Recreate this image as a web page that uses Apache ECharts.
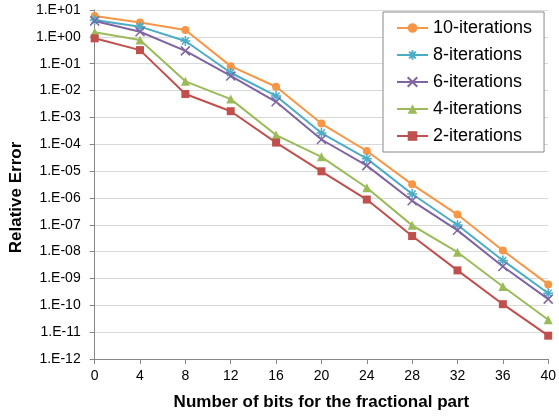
<!DOCTYPE html>
<html>
<head>
<meta charset="utf-8">
<script src="https://cdn.jsdelivr.net/npm/echarts@6/dist/echarts.min.js"></script>
<style>
html, body { margin: 0; padding: 0; background: #fff; }
#chart { width: 559px; height: 418px; }
</style>
</head>
<body>
<div id="chart"></div>
<script>
var bits = ['0', '4', '8', '12', '16', '20', '24', '28', '32', '36', '40'];
var it10 = [6.0, 3.4, 1.8, 0.081, 0.0138, 5.9e-4, 5.6e-5, 3.2e-6, 2.4e-7, 1.1e-8, 6e-10];
var it8 = [4.2, 2.4, 0.70, 0.046, 6.3e-3, 2.6e-4, 2.9e-5, 1.4e-6, 9.8e-8, 4.7e-9, 2.8e-10];
var it6 = [3.9, 1.55, 0.30, 0.035, 3.8e-3, 1.5e-4, 1.6e-5, 7.8e-7, 6.2e-8, 2.8e-9, 1.7e-10];
var it4 = [1.47, 0.76, 0.022, 0.0048, 2.2e-4, 3.4e-5, 2.4e-6, 9.5e-8, 9.5e-9, 5e-10, 2.9e-11];
var it2 = [0.88, 0.32, 0.0074, 0.0017, 1.15e-4, 9.8e-6, 8.7e-7, 3.8e-8, 2e-9, 1.1e-10, 7.4e-12];

var FONT = 'Liberation Sans';
var starPath = 'path://M5,0L5,10M0,5L10,5M1.5,1.5L8.5,8.5M8.5,1.5L1.5,8.5';
var crossPath = 'path://M0,0L10,10M10,0L0,10';

// format like Excel: 1.E-05
function sciLabel(v) {
	var e = Math.round(Math.log10(v));
	var s = e >= 0 ? '+' : '-';
	var a = Math.abs(e);
	return '1.E' + s + (a < 10 ? '0' + a : a);
}

function mkSeries(name, data, color, symbol, size, stroke) {
	var s = {
		name: name,
		type: 'line',
		data: data,
		symbol: symbol,
		symbolSize: size,
		lineStyle: { color: color, width: 2 },
		itemStyle: { color: color },
		emphasis: { disabled: true }
	};
	if (stroke) {
		s.itemStyle = { color: 'none', borderColor: color, borderWidth: 1.5 };
	}
	return s;
}

var chart = echarts.init(document.getElementById('chart'), null, { renderer: 'canvas' });
chart.setOption({
	animation: false,
	textStyle: { fontFamily: FONT },
	grid: { left: 93.5, right: 9, top: 10, bottom: 59, containLabel: false },
	legend: {
		orient: 'vertical',
		left: 383,
		top: 12,
		width: 161,
		padding: [7, 12, 7, 13],
		itemWidth: 31,
		itemHeight: 12,
		itemGap: 9,
		backgroundColor: '#fff',
		borderColor: '#888',
		borderWidth: 1,
		textStyle: { fontFamily: FONT, fontSize: 18, color: '#000' },
		data: ['10-iterations', '8-iterations', '6-iterations', '4-iterations', '2-iterations']
	},
	xAxis: {
		type: 'category',
		data: bits,
		boundaryGap: false,
		name: 'Number of bits for the fractional part',
		nameLocation: 'middle',
		nameGap: 35,
		nameTextStyle: { fontFamily: FONT, fontSize: 17, fontWeight: 'bold', color: '#000' },
		axisLine: { lineStyle: { color: '#868686', width: 1 } },
		axisTick: { show: true, length: 5, lineStyle: { color: '#868686' } },
		axisLabel: { fontSize: 14, color: '#000', margin: 10 },
		splitLine: { show: false }
	},
	yAxis: {
		type: 'log',
		logBase: 10,
		min: 1e-12,
		max: 10,
		interval: 1,
		name: 'Relative Error',
		nameLocation: 'middle',
		nameGap: 64,
		nameTextStyle: { fontFamily: FONT, fontSize: 17, fontWeight: 'bold', color: '#000', padding: [0, 26, 0, 0] },
		axisLine: { show: true, lineStyle: { color: '#868686', width: 1 } },
		axisTick: { show: true, length: 5, lineStyle: { color: '#868686' } },
		axisLabel: { fontSize: 14, color: '#000', margin: 14, formatter: sciLabel },
		splitLine: { show: true, lineStyle: { color: '#D9D9D9', width: 1 } }
	},
	series: [
		mkSeries('10-iterations', it10, '#F79646', 'circle', 8, false),
		mkSeries('8-iterations', it8, '#4BACC6', starPath, 10, true),
		mkSeries('6-iterations', it6, '#8064A2', crossPath, 9, true),
		mkSeries('4-iterations', it4, '#9BBB59', 'triangle', 9, false),
		mkSeries('2-iterations', it2, '#C0504D', 'rect', 8, false)
	]
});
</script>
</body>
</html>
